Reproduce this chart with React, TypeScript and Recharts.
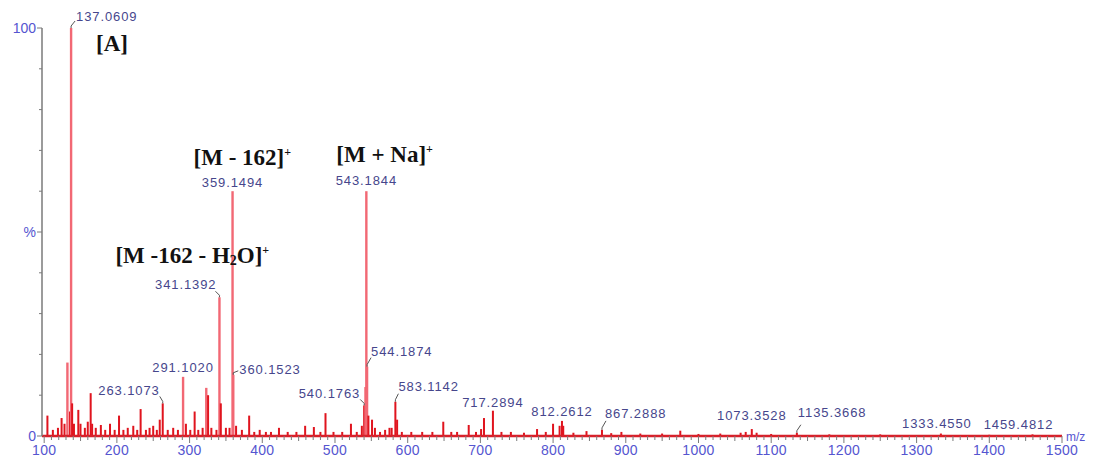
import React from "react";
import { ComposedChart, Bar, XAxis, YAxis, LabelList } from "recharts";

// peak positions (m/z) and relative intensity (%)
const peakMz = [
  104.5, 112, 119, 124, 128, 132, 135.5, 137.0609, 138.5, 141, 147, 150, 156, 160,
  164, 166, 171, 178, 184, 190.6, 197, 203, 209, 215, 222.6, 228, 232.7, 240, 245,
  250, 255, 259, 263.1073, 270, 277.5, 284, 291.102, 295, 301, 307, 312, 318, 323,
  325.5, 330, 337, 341.1392, 343, 350, 355, 359.1494, 360.1523, 364, 372, 382, 389,
  396.5, 405, 412, 423, 435, 447, 459, 471, 480, 487, 498, 510, 522, 530, 537,
  540.1763, 542, 543.1844, 544.1874, 546, 551, 555, 562, 569, 575, 578, 583.1142,
  585.5, 592, 605, 620, 634, 649, 660, 668, 684, 694, 701, 705, 717.2894, 729, 742,
  760, 778, 790, 800, 809, 812.2612, 814, 828, 846, 867.2888, 880, 894, 920, 950,
  975, 1000, 1030, 1058, 1065, 1073.3528, 1080, 1100, 1135.3668, 1180, 1250,
  1333.455, 1400, 1459.4812,
];
const peakIntensity = [
  5, 1.5, 2, 4.4, 3, 18, 6, 100, 8, 3, 6.4, 3, 2, 3.5,
  10.5, 3, 2, 2.7, 1.5, 3, 1.5, 5, 1.5, 2, 2.5, 1.5, 6.6, 1.5, 2,
  2.5, 1.5, 4, 8, 1.5, 2, 1.5, 14.5, 3, 1.5, 6, 1.5, 2, 11.8,
  10, 2, 1.5, 34, 8, 2, 2, 60, 15, 2.5, 1.5, 5, 1,
  1.5, 1, 1, 2, 1, 1, 2.5, 2.2, 1, 5.6, 1, 1, 3, 1, 2.5,
  7.5, 12, 60, 17, 5, 4, 2, 1, 1.5, 2, 2, 8.4,
  4, 1, 1, 1, 1, 3.5, 1, 1, 2.7, 1, 1.7, 4.4, 6.2, 1, 1,
  0.8, 1.7, 1, 3, 2.5, 3.7, 2.5, 0.8, 1.2, 1.5, 0.7, 1, 0.6, 0.6,
  1.3, 0.5, 0.6, 0.8, 1, 1.7, 0.8, 0.5, 0.8, 0.4, 0.4,
  0.6, 0.3, 0.4,
];
const labelledPeaks = [
  "137.0609", "263.1073", "291.1020", "341.1392", "359.1494", "360.1523",
  "540.1763", "543.1844", "544.1874", "583.1142", "717.2894", "812.2612",
  "867.2888", "1073.3528", "1135.3668", "1333.4550", "1459.4812",
];
const xTickLabels = [100, 200, 300, 400, 500, 600, 700, 800, 900, 1000, 1100, 1200, 1300, 1400, 1500];
const yTicks = [0, 10, 20, 30, 40, 50, 60, 70, 80, 90, 100];

const data = peakMz.map((mz, i) => {
  const key = mz.toFixed(4);
  return {
    mz,
    intensity: peakIntensity[i],
    label: labelledPeaks.includes(key) ? key : undefined,
  };
});

const minorTicks: number[] = [];
for (let v = 100; v <= 1500; v += 10) minorTicks.push(v);

const AXIS_BLUE = "#5555d0";
const LABEL_BLUE = "#46468c";

// where each peak label sits relative to the peak top
const placement: Record<string, { anchor: "start" | "middle" | "end"; dx: number; dy: number; lead?: [number, number] }> = {
  "137.0609": { anchor: "start", dx: 5, dy: -12, lead: [4, -7] },
  "263.1073": { anchor: "end", dx: -3, dy: -13, lead: [-3, -7] },
  "291.1020": { anchor: "middle", dx: 0, dy: -9 },
  "341.1392": { anchor: "end", dx: -3, dy: -13, lead: [-4, -6] },
  "359.1494": { anchor: "middle", dx: 0, dy: -9 },
  "360.1523": { anchor: "start", dx: 6, dy: -5, lead: [5, -4] },
  "540.1763": { anchor: "end", dx: -4, dy: -12, lead: [-4, -6] },
  "543.1844": { anchor: "middle", dx: 0, dy: -11 },
  "544.1874": { anchor: "start", dx: 4, dy: -15, lead: [4, -9] },
  "583.1142": { anchor: "start", dx: 3, dy: -15, lead: [3, -8] },
  "717.2894": { anchor: "middle", dx: 0, dy: -8 },
  "812.2612": { anchor: "middle", dx: 0, dy: -9 },
  "867.2888": { anchor: "start", dx: 3, dy: -16, lead: [4, -9] },
  "1073.3528": { anchor: "middle", dx: 0, dy: -14 },
  "1135.3668": { anchor: "start", dx: 1, dy: -20, lead: [4, -8] },
  "1333.4550": { anchor: "middle", dx: -4, dy: -10 },
  "1459.4812": { anchor: "middle", dx: -14, dy: -10 },
};

const annoStyle = { fontFamily: "'Liberation Serif', serif", fontWeight: 700, fontSize: 23, fill: "#111" };

function Annotation({ peak, x, top }: { peak: string; x: number; top: number }) {
  if (peak === "137.0609")
    return <text x={x + 25} y={top + 15} dominantBaseline="central" style={annoStyle}>[A]</text>;
  if (peak === "359.1494")
    return (
      <text x={x - 39} y={top - 34} dominantBaseline="central" style={annoStyle}>
        [M - 162]<tspan fontSize={12} dy={-5}>+</tspan>
      </text>
    );
  if (peak === "543.1844")
    return (
      <text x={x - 30} y={top - 37} dominantBaseline="central" style={annoStyle}>
        [M + Na]<tspan fontSize={12} dy={-5}>+</tspan>
      </text>
    );
  if (peak === "341.1392")
    return (
      <text x={x - 104} y={top - 42} dominantBaseline="central" style={annoStyle}>
        [M -162 - H<tspan fontSize={14} dy={5}>2</tspan>
        <tspan dy={-5}>O]</tspan>
        <tspan fontSize={12} dy={-5}>+</tspan>
      </text>
    );
  return null;
}

// thin stick drawn at the centre of each bar slot, so width doesn't collapse
function Stick(props: any) {
  const { x, y, width, height, payload } = props;
  if (!height || height <= 0) return null;
  const cx = Number(x) + Number(width) / 2;
  const tall = payload.intensity >= 11;
  const w = tall ? 2.4 : 2;
  return <rect x={cx - w / 2} y={y} width={w} height={height} fill={tall ? "#f26874" : "#e0141e"} />;
}

function PeakLabel(props: any) {
  const { x, y, width, value } = props;
  if (!value) return null;
  const p = placement[value];
  const cx = Number(x) + Number(width) / 2;
  const top = Number(y);
  return (
    <g>
      {p.lead && (
        <path
          d={`M${cx},${top} L${cx},${top - 2} L${cx + p.lead[0]},${top + p.lead[1]}`}
          stroke="#555"
          fill="none"
          strokeWidth={1}
        />
      )}
      <text
        x={cx + p.dx}
        y={top + p.dy}
        textAnchor={p.anchor}
        dominantBaseline="central"
        fill={LABEL_BLUE}
        fontSize={13}
        letterSpacing={0.9}
        fontFamily="'Liberation Sans', Arial, sans-serif"
      >
        {value}
      </text>
      <Annotation peak={value} x={cx} top={top} />
    </g>
  );
}

function XTick(props: any) {
  const { x, y, payload } = props;
  const v = payload.value;
  const major = v % 100 === 0;
  const len = major ? 7 : v % 50 === 0 ? 5 : 4;
  return (
    <g>
      <line x1={x} x2={x} y1={y} y2={y + len} stroke="#7a7a7a" strokeWidth={1} />
      {major && xTickLabels.includes(v) && (
        <text x={x} y={y + 19} textAnchor="middle" fill={AXIS_BLUE} fontSize={14}
          letterSpacing={0.3} fontFamily="'Liberation Sans', Arial, sans-serif">
          {v}
        </text>
      )}
    </g>
  );
}

function YTick(props: any) {
  const { x, y, payload } = props;
  const v = payload.value;
  const major = v === 0 || v === 50 || v === 100;
  const text = v === 100 ? "100" : v === 50 ? "%" : v === 0 ? "0" : "";
  return (
    <g>
      <line x1={x - (major ? 5 : 3)} x2={x} y1={y} y2={y} stroke="#7a7a7a" strokeWidth={1} />
      {text && (
        <text x={x - 6} y={y} textAnchor="end" dominantBaseline="central" fill={AXIS_BLUE}
          fontSize={14} fontFamily="'Liberation Sans', Arial, sans-serif">
          {text}
        </text>
      )}
    </g>
  );
}

export default function App() {
  return (
    <div style={{ position: "absolute", left: 0, top: 0, width: 1096, height: 466, background: "#fff" }}>
      <ComposedChart width={1096} height={466} data={data} margin={{ top: 28, right: 34, bottom: 0, left: 0 }}>
        <XAxis
          dataKey="mz"
          type="number"
          domain={[97, 1500]}
          ticks={minorTicks}
          interval={0}
          allowDataOverflow
          tickLine={false}
          tickSize={0}
          tickMargin={0}
          tick={<XTick />}
          axisLine={{ stroke: "#d8202a", strokeWidth: 2.5 }}
          height={30}
          label={{
            content: (p: any) => (
              <text x={p.viewBox.x + p.viewBox.width + 4} y={p.viewBox.y + 5} fill={AXIS_BLUE}
                fontSize={12} fontFamily="'Liberation Sans', Arial, sans-serif">
                m/z
              </text>
            ),
          }}
        />
        <YAxis
          type="number"
          domain={[0, 100]}
          ticks={yTicks}
          interval={0}
          width={42}
          tickLine={false}
          tickSize={0}
          tickMargin={0}
          tick={<YTick />}
          axisLine={{ stroke: "#7a7a7a", strokeWidth: 1.5 }}
        />
        <Bar dataKey="intensity" barSize={3} shape={<Stick />} isAnimationActive={false}>
          <LabelList dataKey="label" content={<PeakLabel />} />
        </Bar>
      </ComposedChart>
    </div>
  );
}
